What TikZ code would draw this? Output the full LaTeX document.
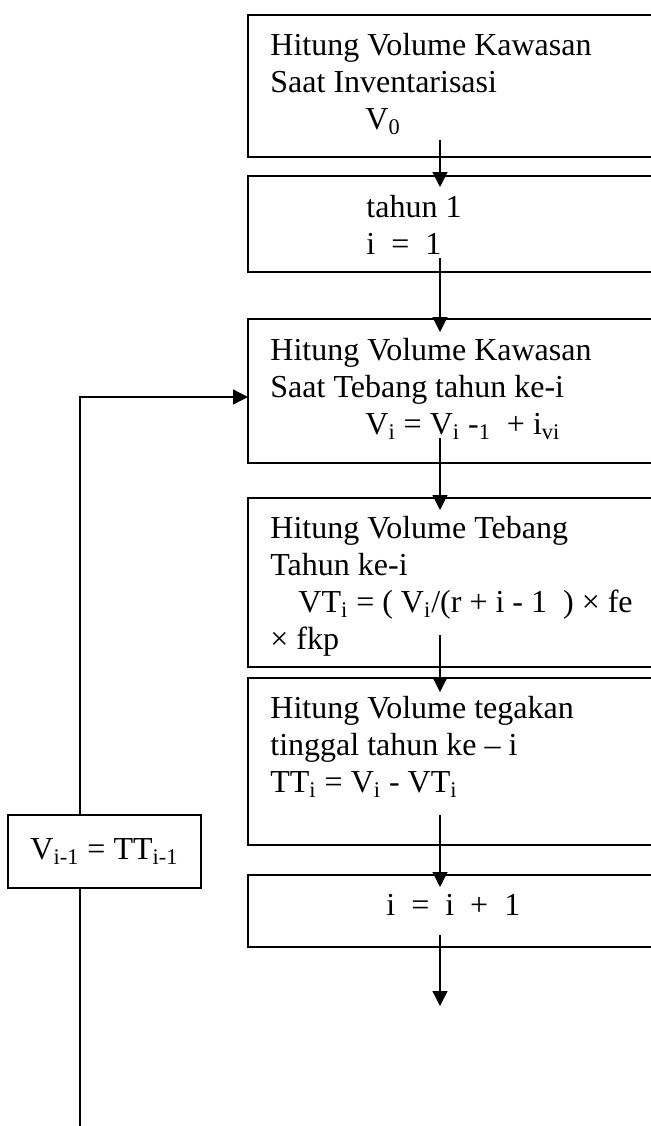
\documentclass[tikz,border=0pt]{standalone}
\usepackage{fontspec}
\setmainfont{Liberation Serif}
\usetikzlibrary{arrows.meta}

\tikzset{
  box/.style={draw, line width=1pt, minimum width=206pt, outer sep=0pt, inner sep=0pt, anchor=north west},
  txt/.style={anchor=base west, inner sep=0pt, align=left, font=\fontsize{16}{18.5}\selectfont},
  flow/.style={line width=0.65pt, -{Triangle[length=7.5pt,width=7.5pt]}},
  wire/.style={line width=0.65pt}
}

\begin{document}
\begin{tikzpicture}[x=0.5pt,y=-0.5pt]

\clip (0,0) rectangle (651,1126);

%boxes
\node[box, minimum height=71pt] (b1) at (248,15) {};
\node[box, minimum height=48pt] (b2) at (248,176) {};
\node[box, minimum height=72pt] (b3) at (248,319) {};
\node[box, minimum height=84.5pt] (b4) at (248,498) {};
\node[box, minimum height=83.5pt] (b5) at (248,678) {};
\node[box, minimum height=36pt] (b6) at (248,875) {};
\node[box, line width=0.8pt, minimum width=96.5pt, minimum height=36.5pt] (lb) at (8,815) {};

%texts (anchored at the baseline of the last line)
\node[txt] (t1) at (270,129) {Hitung Volume Kawasan\\Saat Inventarisasi\\\hspace*{47.5pt}V\textsubscript{0}};
\node[txt] (t2) at (366,254) {tahun 1\\i \ = \ 1};
\node[txt] (t3) at (270,434) {Hitung Volume Kawasan\\Saat Tebang tahun ke-i\\\hspace*{47.5pt}V\textsubscript{i} = V\textsubscript{i} -\textsubscript{1} \ + i\textsubscript{vi}};
\node[txt] (t4) at (270,649) {Hitung Volume Tebang\\Tahun ke-i\\\hspace*{14pt}VT\textsubscript{i} = ( V\textsubscript{i}/(r + i - 1 \ ) × fe\\× fkp};
\node[txt] (t5) at (270,792) {Hitung Volume tegakan\\tinggal tahun ke – i\\TT\textsubscript{i} = V\textsubscript{i} - VT\textsubscript{i}};
\node[txt] (t6) at (386,915) {i \ = \ i \ + \ 1};
\node[txt, anchor=center] (t7) at (lb.center) {V\textsubscript{i-1} = TT\textsubscript{i-1}};

%arrows
\coordinate (ax) at (440,0);
\coordinate (end) at (440,1006);
\draw[flow] ([yshift=8.5pt]b1.south -| ax) -- ([yshift=-5.5pt]b2.north -| ax);
\draw[flow] ([yshift=7pt]b2.south -| ax) -- ([yshift=-6.5pt]b3.north -| ax);
\draw[flow] ([yshift=12.5pt]b3.south -| ax) -- ([yshift=-6pt]b4.north -| ax);
\draw[flow] ([yshift=16pt]b4.south -| ax) -- ([yshift=-7pt]b5.north -| ax);
\draw[flow] ([yshift=15pt]b5.south -| ax) -- ([yshift=-6pt]b6.north -| ax);
\draw[flow] ([yshift=6pt]b6.south -| ax) -- (end);

%loop back
\coordinate (loop) at (80,397);
\coordinate (bot) at (80,1126);
\draw[flow] (lb.north -| loop) -- (loop) -- (loop -| b3.west);
\draw[wire] (lb.south -| loop) -- (bot);

\end{tikzpicture}
\end{document}
